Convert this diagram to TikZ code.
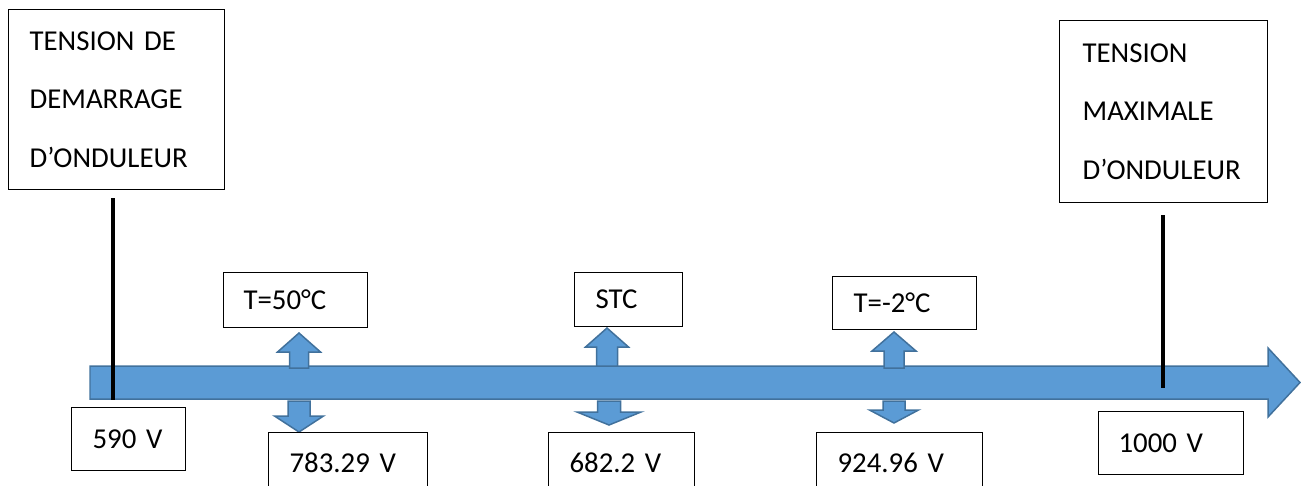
\documentclass[tikz,border=0pt]{standalone}
\usepackage{fontspec}
\setmainfont[WordSpace=0.9]{Carlito}
\usepackage{tikz}
\usetikzlibrary{positioning}
\usepackage{xcolor}
\definecolor{arrowfill}{RGB}{91,155,213}
\definecolor{arrowedge}{RGB}{65,113,156}
\definecolor{boxedge}{RGB}{0,0,0}
\newcommand{\boxfont}{\fontsize{16.4}{33.3}\selectfont}
% fat block arrow: x, shaft start y, head base y, tip y, half shaft, half head
\newcommand{\fatarrow}[6]{%
  \filldraw[blockarrow] (#1-#5,#2) -- (#1-#5,#3) -- (#1-#6,#3) -- (#1,#4)
    -- (#1+#6,#3) -- (#1+#5,#3) -- (#1+#5,#2) -- cycle;}
\tikzset{
  % Big label box (top)
  titlebox/.style={
    rectangle, draw=boxedge, line width=0.7pt,
    anchor=north west, align=left, inner ysep=0pt,
    font=\boxfont
  },
  % Small value box
  valbox/.style={
    rectangle, draw=boxedge, line width=0.7pt,
    anchor=north west, align=left, inner xsep=0.42cm, inner ysep=0pt,
    font=\boxfont
  },
  % Blue block arrow
  blockarrow/.style={
    fill=arrowfill, draw=arrowedge, line width=0.85pt, line join=miter
  },
  % Black marker line
  marker/.style={
    draw=black, line width=2.3pt
  },
}
\begin{document}
\begin{tikzpicture}[x=0.02cm, y=-0.02cm]

\useasboundingbox (0,0) rectangle (1301,485);

%% ── MAIN AXIS ────────────────────────────────────────────────────────────

\filldraw[blockarrow] (90,366) -- (1268,366) -- (1268,348) -- (1300,382.5)
  -- (1268,417) -- (1268,399) -- (90,399) -- cycle;

%% ── SMALL UP / DOWN ARROWS ───────────────────────────────────────────────

\fatarrow{299}{368}{352}{333}{9.5}{21.5}
\fatarrow{607}{366}{347}{328}{10.5}{21.5}
\fatarrow{894}{368}{351}{332}{10}{22}

\fatarrow{299}{401}{416}{432}{11}{24.5}
\fatarrow{609}{401}{412}{425}{11.5}{32}
\fatarrow{894}{401}{410}{423}{11}{24.5}

%% ── LIMIT MARKERS ────────────────────────────────────────────────────────

\coordinate (demtop) at (113,198);
\coordinate (dembot) at (113,400);
\coordinate (maxtop) at (1163,215);
\coordinate (maxbot) at (1163,388);

\draw[marker] (demtop) -- (dembot);
\draw[marker] (maxtop) -- (maxbot);

%% ── TOP LABELS ───────────────────────────────────────────────────────────

\node[titlebox, inner xsep=0.42cm, text width=3.48cm, minimum height=3.6cm]
  (demarrage) at (8,9) {TENSION DE\\DEMARRAGE\\D’ONDULEUR};

\node[titlebox, inner xsep=0.46cm, text width=3.24cm, minimum height=3.64cm]
  (maximale) at (1059,20) {TENSION\\MAXIMALE\\D’ONDULEUR};

\node[valbox, inner xsep=0.4cm, text width=2.08cm, minimum height=1.1cm]
  (t50) at (223,272) {T=50°C};
\node[valbox, text width=1.32cm, minimum height=1.08cm]
  (stc) at (574,272) {STC};
\node[valbox, text width=2.04cm, minimum height=1.06cm]
  (tm2) at (832,276) {T=-2°C};

%% ── VOLTAGE VALUES ───────────────────────────────────────────────────────

\node[valbox, text width=1.44cm, minimum height=1.26cm]
  (v590) at (71,407) {590 V};
\node[valbox, text width=2.34cm, minimum height=1.2cm]
  (v783) at (268,432) {783.29 V};
\node[valbox, text width=2.08cm, minimum height=1.2cm]
  (v682) at (548,432) {682.2 V};
\node[valbox, text width=2.48cm, minimum height=1.2cm]
  (v925) at (816,432) {924.96 V};
\node[valbox, inner xsep=0.4cm, text width=2.1cm, minimum height=1.26cm]
  (v1000) at (1098,411) {1000 V};

\end{tikzpicture}
\end{document}
